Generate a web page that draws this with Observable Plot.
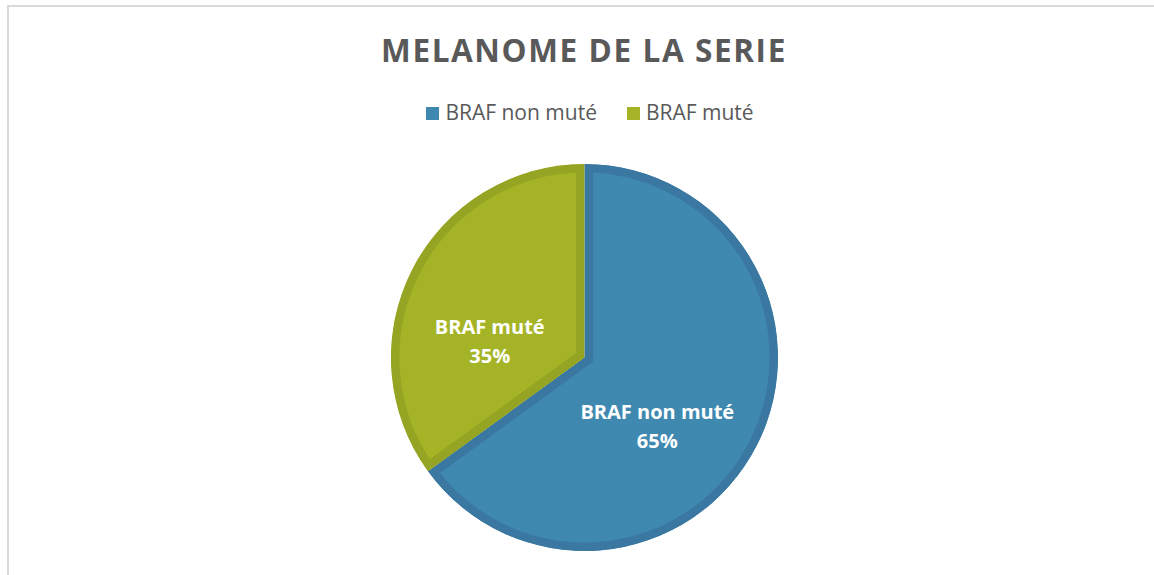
<!DOCTYPE html>
<html>
<head>
<meta charset="utf-8">
<script src="https://cdn.jsdelivr.net/npm/d3@7"></script>
<script src="https://cdn.jsdelivr.net/npm/@observablehq/plot@0.6"></script>
<style>
  html, body { margin: 0; padding: 0; background: #fff; }
  #frame { position: absolute; left: 7px; top: 5px; width: 1160px; height: 580px;
           border-top: 2px solid #d9d9d9; border-left: 2px solid #d9d9d9; box-sizing: border-box; }
  #title { position: absolute; left: 0; width: 1168px; top: 27px; text-align: center;
           font-family: "Open Sans", sans-serif; font-weight: 700; font-size: 31.5px;
           letter-spacing: 1.6px; color: #595959; line-height: 46px; }
  #legend { position: absolute; left: 0; width: 1210px; top: 97px; text-align: center;
            font-family: "Open Sans", sans-serif; font-size: 21px; color: #595959; line-height: 30px; }
  #legend span.item { display: inline-block; margin-right: 30px; }
  #legend span.sw { display: inline-block; width: 13px; height: 13px; margin-right: 6px; vertical-align: 0px; }
  #chart { position: absolute; left: 0; top: 148px; }
</style>
</head>
<body>
<div id="frame"></div>
<div id="title"></div>
<div id="legend"></div>
<div id="chart"></div>
<script>
const titleText = "MELANOME DE LA SERIE";
const categories = ["BRAF non muté", "BRAF muté"];
const values = [65, 35];
const fills = ["#3f89b1", "#a5b426"];
const strokes = ["#3a78a1", "#95a422"];

document.getElementById("title").textContent = titleText;
const legend = document.getElementById("legend");
categories.forEach((c, i) => {
  const it = document.createElement("span");
  it.className = "item";
  const sw = document.createElement("span");
  sw.className = "sw";
  sw.style.background = fills[i];
  it.appendChild(sw);
  it.appendChild(document.createTextNode(c));
  legend.appendChild(it);
});

const data = categories.map((c, i) => ({category: c, value: values[i], fill: fills[i], stroke: strokes[i]}));
const arcs = d3.pie().sort(null).value(d => d.value)(data);
const total = d3.sum(values);

const labelR = 0.486;
const labels = arcs.map(a => {
  const mid = (a.startAngle + a.endAngle) / 2;
  return {
    x: labelR * Math.sin(mid),
    y: labelR * Math.cos(mid),
    text: a.data.category + "\n" + Math.round(a.data.value / total * 100) + "%"
  };
});

function pieMark(index, scales, values, dimensions, context) {
  const cx = scales.x(0), cy = scales.y(0);
  const r = scales.x(1) - scales.x(0);
  const g = d3.create("svg:g").attr("transform", `translate(${cx},${cy})`);
  const arc = d3.arc().innerRadius(0).outerRadius(r);
  arcs.forEach((a, i) => {
    const id = "clip-slice-" + i;
    g.append("clipPath").attr("id", id).append("path").attr("d", arc(a));
    g.append("path")
      .attr("d", arc(a))
      .attr("fill", a.data.fill)
      .attr("stroke", a.data.stroke)
      .attr("stroke-width", 17)
      .attr("stroke-linejoin", "miter")
      .attr("clip-path", `url(#${id})`);
  });
  return g.node();
}

const plot = Plot.plot({
  width: 1154,
  height: 420,
  marginLeft: 391,
  marginRight: 376,
  marginTop: 16,
  marginBottom: 17,
  x: {domain: [-1, 1], axis: null},
  y: {domain: [-1, 1], axis: null},
  style: {background: "transparent", overflow: "visible"},
  marks: [
    pieMark,
    Plot.text(labels, {
      x: "x", y: "y", text: "text", dx: -11.5, dy: 23.5,
      fill: "white", fontWeight: 700, fontSize: 20, lineHeight: 1.45,
      fontFamily: "Open Sans"
    })
  ]
});
document.getElementById("chart").appendChild(plot);
</script>
</body>
</html>
